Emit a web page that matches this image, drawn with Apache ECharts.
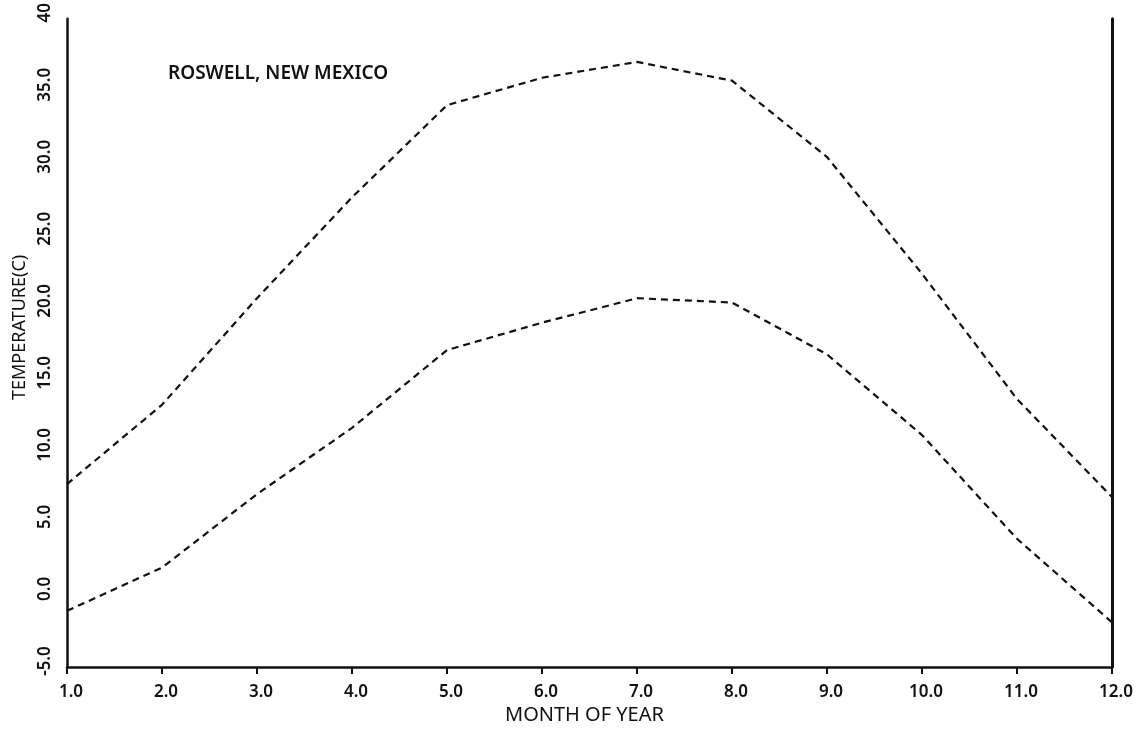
<!DOCTYPE html>
<html>
<head>
<meta charset="utf-8">
<title>Roswell, New Mexico temperatures</title>
<script src="https://cdn.jsdelivr.net/npm/echarts@6/dist/echarts.min.js"></script>
<style>
  html, body { margin: 0; padding: 0; background: #ffffff; }
  #chart { width: 1143px; height: 730px; }
</style>
</head>
<body>
<div id="chart"></div>
<script>
// Monthly temperature envelope (deg C)
const months = [1, 2, 3, 4, 5, 6, 7, 8, 9, 10, 11, 12];
const maxTemps = [7.7, 13.2, 20.6, 27.6, 34.0, 35.9, 37.0, 35.7, 30.4, 22.3, 13.6, 6.8];
const minTemps = [-1.1, 1.9, 7.0, 11.6, 17.0, 18.9, 20.6, 20.3, 16.7, 11.1, 3.9, -1.9];

// Axis tick labels
const yTickValues = [-5, 0, 5, 10, 15, 20, 25, 30, 35, 40];
const yTickLabels = ['-5.0', '0.0', '5.0', '10.0', '15.0', '20.0', '25.0', '30.0', '35.0', '40'];
const xTickLabels = ['1.0', '2.0', '3.0', '4.0', '5.0', '6.0', '7.0', '8.0', '9.0', '10.0', '11.0', '12.0'];

const FONT = '"Noto Sans", "DejaVu Sans", sans-serif';
const INK = '#111111';

const chart = echarts.init(document.getElementById('chart'), null, { renderer: 'canvas' });

const pairs = arr => months.map((m, i) => [m, arr[i]]);

const dashed = {
  type: 'line',
  symbol: 'none',
  smooth: false,
  silent: true,
  lineStyle: { color: INK, width: 2.2, type: [7, 5] }
};

chart.setOption({
  backgroundColor: '#ffffff',
  animation: false,
  title: {
    text: 'ROSWELL, NEW MEXICO',
    left: 163,
    top: 59,
    textStyle: { fontFamily: FONT, fontSize: 19, fontWeight: 600, color: INK }
  },
  grid: { left: 67, right: 31, top: 9, bottom: 63, containLabel: false },
  xAxis: {
    type: 'value',
    min: 1,
    max: 12,
    interval: 1,
    axisLine: { show: true, onZero: false, lineStyle: { color: INK, width: 2.5 } },
    axisTick: { show: true, inside: false, length: 7, lineStyle: { color: INK, width: 2 } },
    splitLine: { show: false },
    axisLabel: {
      margin: 17,
      padding: [0, 0, 0, 8],
      fontFamily: FONT,
      fontSize: 17,
      fontWeight: 600,
      color: INK,
      formatter: v => xTickLabels[months.indexOf(v)] ?? ''
    }
  },
  yAxis: [
    {
      type: 'value',
      min: -5,
      max: 40,
      interval: 5,
      axisLine: { show: true, onZero: false, lineStyle: { color: INK, width: 2.5 } },
      axisTick: { show: false },
      splitLine: { show: false },
      axisLabel: {
        rotate: 90,
        margin: 13,
        padding: [0, 0, 0, 12],
        fontFamily: FONT,
        fontSize: 17,
        fontWeight: 600,
        color: INK,
        formatter: v => yTickLabels[yTickValues.indexOf(v)] ?? ''
      }
    },
    {
      type: 'value',
      position: 'right',
      min: -5,
      max: 40,
      interval: 5,
      axisLine: { show: true, onZero: false, lineStyle: { color: INK, width: 3 } },
      axisTick: { show: false },
      axisLabel: { show: false },
      splitLine: { show: false }
    }
  ],
  graphic: [
    {
      type: 'text',
      left: 505,
      top: 705,
      style: {
        text: 'MONTH OF YEAR',
        font: '400 20px ' + FONT,
        fill: INK
      }
    },
    {
      type: 'text',
      x: 11,
      y: 400,
      rotation: Math.PI / 2,
      style: {
        text: 'TEMPERATURE(C)',
        font: '400 18px ' + FONT,
        fill: INK,
        textAlign: 'left',
        textVerticalAlign: 'top'
      }
    }
  ],
  series: [
    Object.assign({ name: 'Maximum', data: pairs(maxTemps) }, dashed),
    Object.assign({ name: 'Minimum', data: pairs(minTemps) }, dashed)
  ]
});
</script>
</body>
</html>
